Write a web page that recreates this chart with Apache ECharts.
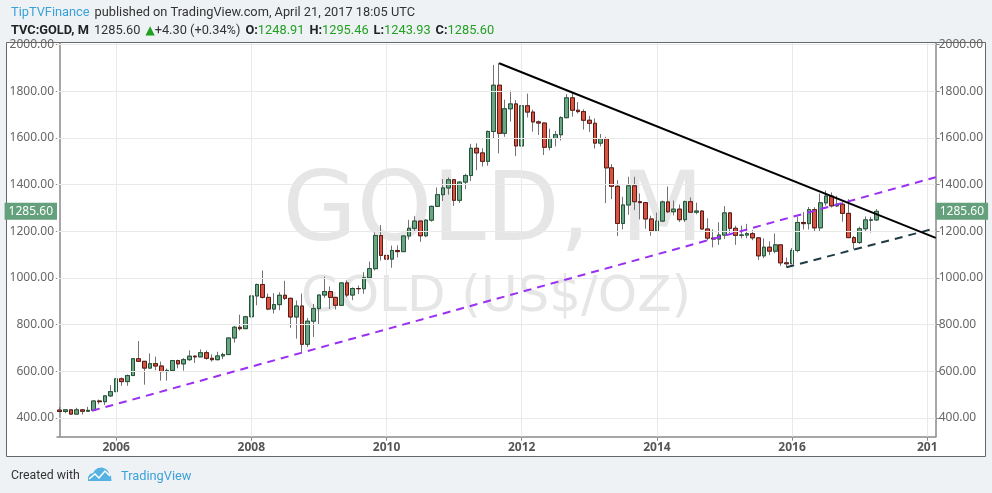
<!DOCTYPE html>
<html><head><meta charset="utf-8">
<script src="https://cdn.jsdelivr.net/npm/echarts@6/dist/echarts.min.js"></script>
<style>html,body{margin:0;padding:0;background:#eff2f5;}#c{width:992px;height:493px;}</style>
</head><body><div id="c"></div>
<script>
// ---- categories: monthly bars, Mar 2005 .. Feb 2018 (axis extends past last bar)
const firstMonth = [2005, 3];
const monthCount = 156;
const months = [];
for (let k = 0; k < monthCount; k++) {
  const y = firstMonth[0] + Math.floor((firstMonth[1] - 1 + k) / 12);
  const m = (firstMonth[1] - 1 + k) % 12 + 1;
  months.push(y + '-' + (m < 10 ? '0' + m : m));
}
// ---- OHLC values (Mar 2005 .. Apr 2017)
const opens = [
434,428,435,417,435,429,433,473,470,495,
513,568,556,582,654,643,614,633,623,599,604,646,
632,650,665,662,680,656,650,666,672,743,789,783,
834,923,972,917,867,886,926,913,833,880,716,815,
869,927,942,917,883,979,927,955,954,1001,1040,1182,
1097,1081,1118,1113,1180,1213,1244,1181,1248,1307,1357,1386,
1421,1333,1411,1439,1556,1536,1500,1628,1826,1620,1725,1746,
1566,1738,1711,1669,1664,1560,1598,1614,1687,1772,1719,1713,
1676,1663,1578,1597,1472,1393,1234,1313,1395,1327,1323,1253,
1202,1244,1326,1284,1295,1250,1327,1282,1287,1210,1171,1167,
1184,1279,1213,1183,1184,1190,1172,1095,1132,1115,1142,1065,
1061,1118,1238,1233,1293,1215,1322,1351,1309,1316,1277,1173,
1152,1211,1248,1248.91];
const highs = [
447,438,436,444,439,448,475,479,497,541,
571,574,586,655,730,644,677,663,642,612,649,650,
657,690,670,694,690,673,684,680,745,795,843,838,
931,976,1032,933,935,939,988,915,904,933,829,889,
927,1006,964,919,980,990,960,968,1025,1070,1195,1227,
1162,1139,1140,1181,1249,1265,1244,1251,1310,1388,1424,1431,
1423,1414,1447,1575,1577,1556,1632,1913,1921,1764,1803,1763,
1764,1790,1721,1675,1667,1640,1630,1693,1788,1796,1754,1723,
1694,1684,1617,1605,1488,1419,1348,1434,1434,1362,1326,1267,
1280,1332,1392,1332,1315,1332,1345,1323,1290,1256,1208,1239,
1308,1282,1224,1225,1232,1205,1175,1170,1157,1191,1143,1088,
1128,1263,1283,1304,1303,1362,1375,1367,1352,1327,1338,1180,
1220,1264,1262,1295.46];
const lows = [
424,421,414,414,415,426,432,459,456,490,
513,538,538,582,641,543,612,605,560,560,603,613,
603,645,636,662,650,642,647,652,670,723,775,781,
834,883,912,862,848,862,905,786,740,681,704,747,
803,915,867,865,883,918,905,931,932,1001,1032,1075,
1075,1044,1088,1113,1164,1200,1155,1175,1241,1304,1330,1357,
1309,1322,1381,1416,1462,1478,1481,1600,1534,1605,1670,1523,
1562,1688,1627,1613,1527,1547,1564,1589,1686,1691,1705,1636,
1626,1555,1564,1321,1338,1180,1208,1271,1291,1251,1211,1181,
1201,1240,1278,1268,1240,1240,1281,1273,1207,1161,1131,1142,
1167,1192,1142,1170,1170,1162,1077,1085,1098,1106,1052,1046,
1061,1110,1208,1208,1200,1199,1310,1302,1304,1241,1171,1123,
1146,1200,1195,1243.93];
const closes = [
428,435,417,435,429,433,473,470,495,513,
568,556,582,654,643,614,633,623,599,604,646,632,
650,665,662,680,656,650,666,672,743,789,783,834,
923,972,917,867,886,926,913,833,880,716,815,869,
927,942,917,883,979,927,955,954,1001,1040,1182,1097,
1081,1118,1113,1180,1213,1244,1181,1248,1307,1357,1386,1421,
1333,1411,1439,1556,1536,1500,1628,1826,1620,1725,1746,1566,
1738,1711,1669,1664,1560,1598,1614,1687,1772,1719,1713,1676,
1663,1578,1597,1472,1393,1234,1313,1395,1327,1323,1253,1202,
1244,1326,1284,1295,1250,1327,1282,1287,1210,1171,1167,1184,
1279,1213,1183,1184,1190,1172,1095,1132,1115,1142,1065,1061,
1118,1238,1233,1293,1215,1322,1351,1309,1316,1277,1173,1152,
1211,1249,1249,1285.60];
// ---- axis ticks
const yTicks = [400,600,800,1000,1200,1400,1600,1800,2000];
const xTickMonths = ['2006-01','2008-01','2010-01','2012-01','2014-01','2016-01','2018-01'];
const xTickText = ['2006','2008','2010','2012','2014','2016','201'];
// ---- drawn trend lines: [month index, price]
const resistanceLine = [[78,1920],[155.5,1172]];
const channelLine = [[5.7,431],[155.5,1432]];
const supportLine = [[129,1046],[155.3,1212]];
const lastPrice = 1285.60;

const full = opens.map((o,i)=>[o, closes[i], lows[i], highs[i]]);
const bodies = opens.map((o,i)=>[o, closes[i], Math.min(o,closes[i]), Math.max(o,closes[i])]);
const tickSet = {};
xTickMonths.forEach((m,i)=>tickSet[m]=xTickText[i]);
const isTick = (i, v) => tickSet[v] !== undefined;

const chart = echarts.init(document.getElementById('c'));
const axisGray = '#8a8a8a';
const yAxisCommon = {
  type:'value', min:320, max:2007, scale:true,
  axisLine:{show:true, lineStyle:{color:axisGray, width:1.5}},
  axisTick:{show:true, customValues:yTicks, length:4, lineStyle:{color:axisGray}},
  axisLabel:{customValues:yTicks, formatter:v=>v.toFixed(2), color:'#666', fontSize:12, fontFamily:'Noto Sans', margin:3},
  splitLine:{show:false}
};
const txt = (c, extra) => Object.assign({color:c, fontSize:12.8, fontWeight:'normal', fontFamily:'Roboto'}, extra||{});
chart.setOption({
  backgroundColor:'#eff2f5',
  animation:false,
  title:[
    {left:6, top:-1, text:'{b|TipTVFinance} {n|published on TradingView.com, April 21, 2017 18:05 UTC}',
     textStyle:{fontWeight:'normal', rich:{b:txt('#3ba1d9'), n:txt('#333')}}},
    {left:6, top:17, text:'{k|TVC:GOLD, M} {n|1285.60} {g|▲}{n|+4.30 (+0.34%)} {k|O:}{v|1248.91} {k|H:}{v|1295.46} {k|L:}{v|1243.93} {k|C:}{v|1285.60}',
     textStyle:{fontWeight:'normal', rich:{k:txt('#222',{fontWeight:'bold'}), n:txt('#333'),
       g:txt('#22a022',{fontSize:12, fontFamily:'DejaVu Sans'}), v:txt('#22a022')}}},
    {left:6, top:465, text:'{n|Created with}', textStyle:{fontWeight:'normal', rich:{n:txt('#333',{fontSize:12.3})}}},
    {left:116, top:465, text:'{n|TradingView}', textStyle:{fontWeight:'normal', rich:{n:txt('#3ba1d9')}}}
  ],
  graphic:[
    {type:'rect', z:-10, shape:{x:6.5, y:42.5, width:979, height:414}, style:{fill:'#fff', stroke:'#666', lineWidth:1}},
    {type:'text', z:-5, x:493, y:215, style:{text:'GOLD, M', font:'96px "DejaVu Sans"', fill:'#e6e6e6', align:'center', verticalAlign:'middle'}},
    {type:'text', z:-5, x:496, y:298, style:{text:'GOLD (US$/OZ)', font:'50px "DejaVu Sans"', fill:'#e6e6e6', align:'center', verticalAlign:'middle'}},
    {type:'polygon', z:5, shape:{points:[[88,481],[88,477],[90,474],[93,473],[95,470],[98,468],[102,467.5],[106,469],[108,471],[109,474],[111,476],[111.5,481]]}, style:{fill:'#55b2e2'}},
    {type:'polyline', z:6, shape:{points:[[89,479],[95,474],[99,478],[105,471],[110,476]]}, style:{stroke:'#fff', lineWidth:1.5, fill:null}}
  ],
  grid:{left:57, right:56.3, top:43, bottom:56.3, show:false},
  xAxis:[
    {type:'category', data:months, boundaryGap:true,
     axisLine:{show:true, lineStyle:{color:axisGray, width:1.5}},
     axisTick:{show:true, interval:isTick, alignWithLabel:true, length:4, lineStyle:{color:axisGray}},
     axisLabel:{interval:isTick, formatter:v=>tickSet[v]||'', color:'#555', fontSize:12, fontWeight:'bold', fontFamily:'Noto Sans', margin:5},
     splitLine:{show:false}},
    {type:'value', min:-0.5, max:monthCount-0.5, show:false}
  ],
  yAxis:[
    Object.assign({position:'left'}, yAxisCommon),
    Object.assign({position:'right'}, yAxisCommon)
  ],
  series:[
    {type:'line', data:months.map(()=>'-'), z:1, silent:true,
     markLine:{silent:true, symbol:'none', label:{show:false}, animation:false,
       lineStyle:{color:'#e9e9e9', type:'solid', width:1},
       data: yTicks.map(v=>({yAxis:v})).concat(xTickMonths.map(m=>({xAxis:m})))}},
    {type:'candlestick', data:full, z:3, barWidth:'74%', silent:true,
     itemStyle:{color:'#6ba583', color0:'#d75442', borderColor:'#737375', borderColor0:'#737375', borderWidth:1}},
    {type:'candlestick', data:bodies, z:4, barWidth:'74%', silent:true,
     itemStyle:{color:'#6ba583', color0:'#d75442', borderColor:'#225437', borderColor0:'#5b1a13', borderWidth:1}},
    {type:'line', xAxisIndex:1, data:channelLine, symbol:'none', z:5, lineStyle:{color:'#9b2ff2', width:2, type:[8,6]}},
    {type:'line', xAxisIndex:1, data:supportLine, symbol:'none', z:5, lineStyle:{color:'#1f3a44', width:2, type:[8,6]}},
    {type:'line', xAxisIndex:1, data:resistanceLine, symbol:'none', z:6, lineStyle:{color:'#000', width:2}},
    {type:'line', data:months.map(()=>'-'), z:20, silent:true,
     markLine:{silent:true, symbol:'none', animation:false, lineStyle:{color:'rgba(0,0,0,0)', width:0},
       label:{show:true, color:'#fff', backgroundColor:'#64a07b', fontSize:12, fontFamily:'Noto Sans', padding:[3,4,2,4], distance:0, formatter:p=>p.value.toFixed(2)},
       data:[{yAxis:lastPrice, label:{position:'start'}},{yAxis:lastPrice, label:{position:'end'}}]}}
  ]
});
</script></body></html>
